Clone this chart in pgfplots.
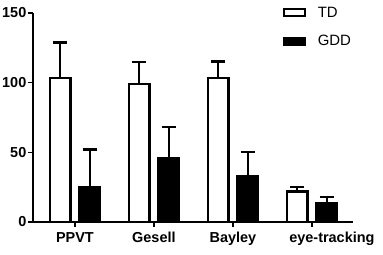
\documentclass[border=0pt]{standalone}
\usepackage{pgfplots}
\pgfplotsset{compat=1.18}
\usepackage{fontspec}
\setmainfont{Liberation Sans}
\begin{document}
\begin{tikzpicture}
\useasboundingbox (-33bp,-33bp) rectangle (350bp,222bp);
\begin{axis}[
  scale only axis,
  width=320bp, height=209bp,
  ybar,
  xmin=-0.53, xmax=3.52,
  ymin=0, ymax=150,
  axis lines=left,
  axis line style={line width=1.6bp,-},
  xtick={0,1,2,3},
  xticklabels={PPVT,Gesell,Bayley,\hspace*{40bp}eye-tracking},
  ytick={0,50,100,150},
  yticklabels={0,50,100,150},
  tick align=outside,
  major tick length=5bp,
  tick style={line width=1.6bp,black},
  ticklabel style={font=\fontsize{14.5}{16}\selectfont\bfseries},
  yticklabel style={inner sep=1.5bp},
  xticklabel style={yshift=-2bp},
  bar width=20.8bp,
  clip=false,
  legend style={at={(rel axis cs:0.78,1.035)}, anchor=north west, draw=none, fill=none,
    font=\fontsize{15}{16}\selectfont, row sep=14.5bp, inner sep=0pt,
    nodes={inner sep=1bp},
    /tikz/every odd column/.append style={column sep=11bp}},
  legend cell align=left,
  legend image code/.code={\draw[#1,line width=2.2bp] (0bp,-3.5bp) rectangle (20.8bp,3.5bp);},
  error bars/y dir=plus,
  error bars/y explicit,
  error bars/error bar style={line width=2bp,black},
  error bars/error mark options={rotate=90,mark size=7bp,line width=2.6bp,black},
]
\addplot[bar shift=-14.8bp, draw=black, fill=white, line width=2.2bp]
  coordinates {(0,103.6) +- (0,25.2) (1,99.0) +- (0,15.8) (2,103.6) +- (0,11.6) (3,21.9) +- (0,3.3)};
\addlegendentry{TD}
\addplot[bar shift=14.8bp, draw=black, fill=black, line width=2.2bp]
  coordinates {(0,25.2) +- (0,26.9) (1,45.7) +- (0,22.4) (2,32.6) +- (0,17.6) (3,13.6) +- (0,4.3)};
\addlegendentry{GDD}
\end{axis}
\end{tikzpicture}
\end{document}
